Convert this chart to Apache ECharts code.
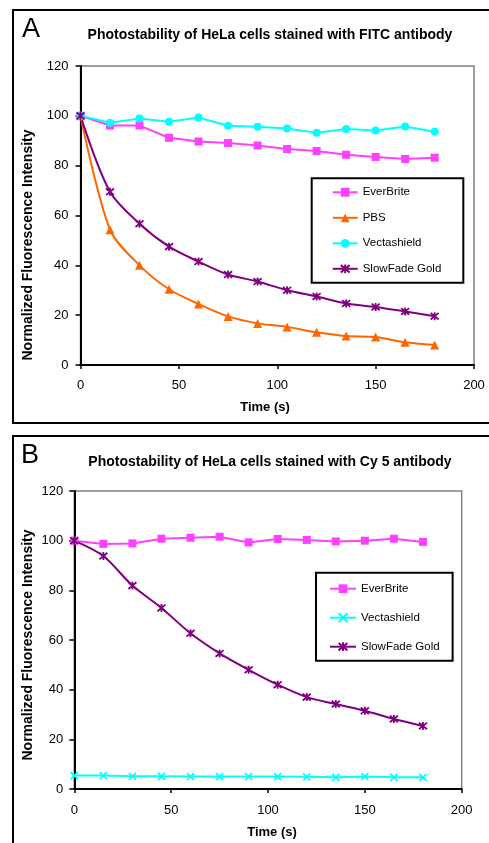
<!DOCTYPE html>
<html>
<head>
<meta charset="utf-8">
<script src="https://cdn.jsdelivr.net/npm/echarts@6/dist/echarts.min.js"></script>
<style>
html,body{margin:0;padding:0;background:#fff;width:489px;height:843px;overflow:hidden;}
#ca{position:absolute;left:0;top:0;width:489px;height:430px;}
#cb{position:absolute;left:0;top:430px;width:489px;height:413px;}
</style>
</head>
<body>
<div id="ca"></div>
<div id="cb"></div>
<script>
// ---- data ----
const timeSec = [0, 15, 30, 45, 60, 75, 90, 105, 120, 135, 150, 165, 180];
const xTicks = [0, 50, 100, 150, 200];
const yTicks = [0, 20, 40, 60, 80, 100, 120];

const titleA = 'Photostability of HeLa cells stained with FITC antibody';
const titleB = 'Photostability of HeLa cells stained with Cy 5 antibody';
const xName = 'Time (s)';
const yName = 'Normalized Fluorescence Intensity';

const namesA = ['EverBrite', 'PBS', 'Vectashield', 'SlowFade Gold'];
const a_everBrite = [100, 96.1, 96.1, 91.2, 89.7, 89.1, 88.1, 86.7, 85.9, 84.4, 83.5, 82.7, 83.2];
const a_pbs = [100, 54.3, 40.0, 30.4, 24.5, 19.5, 16.7, 15.3, 13.1, 11.6, 11.2, 9.1, 8.0];
const a_vectashield = [100, 97.2, 98.9, 97.6, 99.3, 96.0, 95.6, 94.9, 93.2, 94.7, 94.1, 95.7, 93.6];
const a_slowFade = [100, 69.5, 56.7, 47.5, 41.5, 36.3, 33.5, 30.0, 27.5, 24.7, 23.3, 21.5, 19.6];

const namesB = ['EverBrite', 'Vectashield', 'SlowFade Gold'];
const b_everBrite = [100, 98.7, 98.9, 100.8, 101.2, 101.6, 99.3, 100.7, 100.3, 99.7, 100, 100.8, 99.5];
const b_vectashield = [5.4, 5.4, 5.1, 5.1, 5.0, 5.0, 5.0, 5.0, 4.9, 4.7, 5.0, 4.7, 4.7];
const b_slowFade = [100, 93.8, 81.9, 72.9, 62.7, 54.6, 48.0, 42.0, 37.0, 34.2, 31.5, 28.2, 25.4];

// ---- styles ----
const FONT = '"Liberation Sans", Arial, sans-serif';
const C_EVER = '#FF40FF', C_PBS = '#FF6600', C_VEC = '#00FFFF', C_SLOW = '#800080';
const ASTER = 'path://M0,0L10,10M10,0L0,10M5,-1L5,11';
const XMARK = 'path://M0,0L10,10M10,0L0,10';

const pairs = ys => timeSec.map((t, i) => [t, ys[i]]);

function mkSeries(name, ys, color, symbol, size, smooth, stroke) {
  return {
    type: 'line', name: name, data: pairs(ys), smooth: smooth ? 0.3 : false,
    symbol: symbol, symbolSize: size, showSymbol: true,
    lineStyle: { color: color, width: 2 },
    itemStyle: stroke ? { color: color, borderColor: color, borderWidth: 1.8 } : { color: color, borderWidth: 0 },
    emphasis: { disabled: true }, animation: false, z: 3
  };
}

function axes(yMargin, xMargin) {
  return {
    xAxis: {
      type: 'value', min: xTicks[0], max: xTicks[xTicks.length - 1], interval: xTicks[1] - xTicks[0],
      axisLine: { lineStyle: { color: '#000', width: 2 } },
      axisTick: { show: true, inside: false, length: 4, lineStyle: { color: '#000', width: 1.5 } },
      axisLabel: { color: '#000', fontFamily: FONT, fontSize: 13, margin: xMargin },
      splitLine: { show: false }
    },
    yAxis: {
      type: 'value', min: yTicks[0], max: yTicks[yTicks.length - 1], interval: yTicks[1] - yTicks[0],
      axisLine: { show: true, lineStyle: { color: '#000', width: 2 } },
      axisTick: { show: true, inside: false, length: 5, lineStyle: { color: '#000', width: 1.5 } },
      axisLabel: { color: '#000', fontFamily: FONT, fontSize: 13, margin: yMargin },
      splitLine: { show: false }
    }
  };
}

function txt(x, y, text, font, rot) {
  return {
    type: 'text', x: x, y: y, rotation: rot || 0, silent: true, z: 10,
    style: { text: text, font: font, fill: '#000', align: 'center', verticalAlign: 'middle' }
  };
}

// ---- Chart A ----
const chartA = echarts.init(document.getElementById('ca'), null, { renderer: 'canvas' });
const axA = axes(12, 14);
chartA.setOption({
  animation: false,
  grid: { left: 80.5, right: 15, top: 66, height: 299, show: true, borderColor: '#808080', borderWidth: 1.5, backgroundColor: 'transparent' },
  xAxis: axA.xAxis, yAxis: axA.yAxis,
  legend: {
    orient: 'vertical', left: 311.7, top: 178.3,
    data: namesA, itemWidth: 25, itemHeight: 11, itemGap: 13.5,
    padding: [8, 22, 8, 20],
    borderColor: '#000', borderWidth: 2, backgroundColor: '#fff',
    textStyle: { color: '#000', fontFamily: FONT, fontSize: 11.5 },
    selectedMode: false
  },
  series: [
    mkSeries(namesA[0], a_everBrite, C_EVER, 'rect', 8, false, false),
    mkSeries(namesA[1], a_pbs, C_PBS, 'triangle', 9, true, false),
    mkSeries(namesA[2], a_vectashield, C_VEC, 'circle', 8, false, false),
    mkSeries(namesA[3], a_slowFade, C_SLOW, ASTER, 8, true, true)
  ],
  graphic: [
    { type: 'rect', silent: true, shape: { x: 13, y: 10, width: 500, height: 413 }, style: { fill: 'none', stroke: '#000', lineWidth: 2 } },
    txt(31, 30, 'A', '27px ' + FONT),
    txt(270, 35, titleA, 'bold 14px ' + FONT),
    txt(28, 245, yName, 'bold 14px ' + FONT, Math.PI / 2),
    txt(265, 407, xName, 'bold 13px ' + FONT)
  ]
});

// ---- Chart B ----
const chartB = echarts.init(document.getElementById('cb'), null, { renderer: 'canvas' });
const axB = axes(11, 15);
chartB.setOption({
  animation: false,
  grid: { left: 74.3, right: 27.3, top: 61, height: 298, show: true, borderColor: '#808080', borderWidth: 1.5, backgroundColor: 'transparent' },
  xAxis: axB.xAxis, yAxis: axB.yAxis,
  legend: {
    orient: 'vertical', left: 316, top: 142.7,
    data: namesB, itemWidth: 26, itemHeight: 11, itemGap: 17,
    padding: [10, 13, 8, 13],
    borderColor: '#000', borderWidth: 2, backgroundColor: '#fff',
    textStyle: { color: '#000', fontFamily: FONT, fontSize: 11.5 },
    selectedMode: false
  },
  series: [
    mkSeries(namesB[0], b_everBrite, C_EVER, 'rect', 8, false, false),
    mkSeries(namesB[1], b_vectashield, C_VEC, XMARK, 7, false, true),
    mkSeries(namesB[2], b_slowFade, C_SLOW, ASTER, 8, true, true)
  ],
  graphic: [
    { type: 'rect', silent: true, shape: { x: 13, y: 6, width: 500, height: 440 }, style: { fill: 'none', stroke: '#000', lineWidth: 2 } },
    txt(30, 26, 'B', '27px ' + FONT),
    txt(270, 31.7, titleB, 'bold 14px ' + FONT),
    txt(28, 215, yName, 'bold 14px ' + FONT, Math.PI / 2),
    txt(272, 402, xName, 'bold 13px ' + FONT)
  ]
});
</script>
</body>
</html>
